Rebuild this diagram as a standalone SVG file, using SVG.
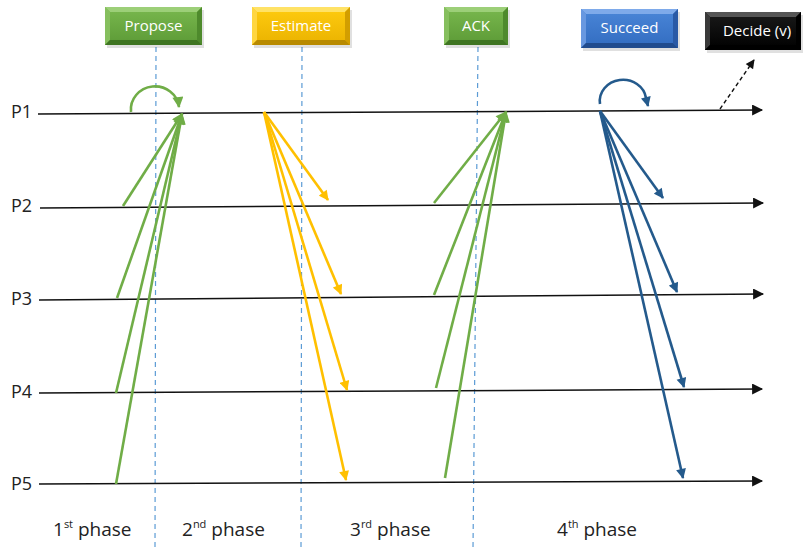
<svg xmlns="http://www.w3.org/2000/svg" width="804" height="548" viewBox="0 0 804 548">
<style>
.lbl{font-family:"Open Sans","Liberation Sans",sans-serif;font-size:18px;fill:#222}
.ph{font-family:"Open Sans","Liberation Sans",sans-serif;font-size:19px;fill:#222}
.btxt{font-family:"Open Sans","Liberation Sans",sans-serif;font-size:15px;fill:#fff;text-anchor:middle}
.sup{font-size:11px}
.axis{stroke:#111;stroke-width:1.5;fill:none;marker-end:url(#mk)}
.div{stroke:#5b9bd5;stroke-width:1.2;stroke-dasharray:5 4;fill:none}
.g{stroke:#70ad47;stroke-width:2.6;fill:none;marker-end:url(#mg)}
.y{stroke:#ffc000;stroke-width:2.6;fill:none;marker-end:url(#my)}
.b{stroke:#245a8c;stroke-width:2.6;fill:none;marker-end:url(#mb)}
</style>
<defs>
<marker id="mk" viewBox="0 0 10 10" refX="9" refY="5" markerUnits="userSpaceOnUse" markerWidth="13" markerHeight="11" orient="auto"><path d="M0,0 L10,5 L0,10 z" fill="#111"/></marker>
<marker id="mg" viewBox="0 0 10 10" refX="9" refY="5" markerUnits="userSpaceOnUse" markerWidth="13" markerHeight="11" orient="auto"><path d="M0,0 L10,5 L0,10 z" fill="#70ad47"/></marker>
<marker id="my" viewBox="0 0 10 10" refX="9" refY="5" markerUnits="userSpaceOnUse" markerWidth="12" markerHeight="10" orient="auto"><path d="M0,0 L10,5 L0,10 z" fill="#ffc000"/></marker>
<marker id="mb" viewBox="0 0 10 10" refX="9" refY="5" markerUnits="userSpaceOnUse" markerWidth="12" markerHeight="10" orient="auto"><path d="M0,0 L10,5 L0,10 z" fill="#245a8c"/></marker>
<marker id="mkd" viewBox="0 0 10 10" refX="9" refY="5" markerUnits="userSpaceOnUse" markerWidth="11" markerHeight="9" orient="auto"><path d="M0,0 L10,5 L0,10 z" fill="#111"/></marker>
<linearGradient id="gG" x1="0" y1="0" x2="0" y2="1"><stop offset="0" stop-color="#79b84e"/><stop offset="1" stop-color="#5c9a36"/></linearGradient>
<linearGradient id="gY" x1="0" y1="0" x2="0" y2="1"><stop offset="0" stop-color="#ffcc10"/><stop offset="1" stop-color="#eab200"/></linearGradient>
<linearGradient id="gB" x1="0" y1="0" x2="0" y2="1"><stop offset="0" stop-color="#4a86d8"/><stop offset="1" stop-color="#326cc0"/></linearGradient>
<linearGradient id="gK" x1="0" y1="0" x2="0" y2="1"><stop offset="0" stop-color="#1a1a1a"/><stop offset="1" stop-color="#000"/></linearGradient>
</defs>
<rect width="804" height="548" fill="#fff"/>

<g id="dividers">
<line class="div" x1="156" y1="47" x2="155" y2="548"/>
<line class="div" x1="302" y1="47" x2="301" y2="548"/>
<line class="div" x1="478" y1="47" x2="473" y2="548"/>
</g>

<g id="timelines">
<g id="p1"><text class="lbl" x="11" y="118">P1</text><line class="axis" x1="38" y1="114" x2="762" y2="110"/></g>
<g id="p2"><text class="lbl" x="11" y="212">P2</text><line class="axis" x1="40" y1="208" x2="763" y2="203"/></g>
<g id="p3"><text class="lbl" x="11" y="305">P3</text><line class="axis" x1="39" y1="300" x2="763" y2="294"/></g>
<g id="p4"><text class="lbl" x="11" y="398">P4</text><line class="axis" x1="39" y1="393" x2="762" y2="389"/></g>
<g id="p5"><text class="lbl" x="11" y="490">P5</text><line class="axis" x1="39" y1="484" x2="762" y2="481"/></g>
</g>

<g id="propose">
<rect x="107" y="10" width="97" height="38" fill="#000" opacity="0.12"/>
<rect x="105" y="7" width="97" height="38" fill="url(#gG)"/>
<polygon points="105,7 202,7 197,12 110,12" fill="#9ccf78"/>
<polygon points="105,7 110,12 110,40 105,45" fill="#86bf5e"/>
<polygon points="202,7 202,45 197,40 197,12" fill="#4e8a2c"/>
<polygon points="105,45 110,40 197,40 202,45" fill="#3f7522"/>
<text class="btxt" x="153.5" y="31">Propose</text>
</g>

<g id="estimate">
<rect x="254" y="10" width="98" height="38" fill="#000" opacity="0.12"/>
<rect x="252" y="7" width="98" height="38" fill="url(#gY)"/>
<polygon points="252,7 350,7 345,12 257,12" fill="#ffe266"/>
<polygon points="252,7 257,12 257,40 252,45" fill="#ffd640"/>
<polygon points="350,7 350,45 345,40 345,12" fill="#d29e00"/>
<polygon points="252,45 257,40 345,40 350,45" fill="#b88a00"/>
<text class="btxt" x="301" y="31">Estimate</text>
</g>

<g id="ack">
<rect x="446" y="10" width="64" height="38" fill="#000" opacity="0.12"/>
<rect x="444" y="7" width="64" height="38" fill="url(#gG)"/>
<polygon points="444,7 508,7 503,12 449,12" fill="#9ccf78"/>
<polygon points="444,7 449,12 449,40 444,45" fill="#86bf5e"/>
<polygon points="508,7 508,45 503,40 503,12" fill="#4e8a2c"/>
<polygon points="444,45 449,40 503,40 508,45" fill="#3f7522"/>
<text class="btxt" x="476" y="31">ACK</text>
</g>

<g id="succeed">
<rect x="583" y="12" width="97" height="39" fill="#000" opacity="0.12"/>
<rect x="581" y="9" width="97" height="39" fill="url(#gB)"/>
<polygon points="581,9 678,9 673,14 586,14" fill="#7eaaea"/>
<polygon points="581,9 586,14 586,43 581,48" fill="#6898e0"/>
<polygon points="678,9 678,48 673,43 673,14" fill="#2a5aa6"/>
<polygon points="581,48 586,43 673,43 678,48" fill="#214c8e"/>
<text class="btxt" x="629.5" y="33">Succeed</text>
</g>

<g id="decide">
<rect x="707" y="15" width="96" height="38" fill="#000" opacity="0.12"/>
<rect x="705" y="12" width="96" height="38" fill="url(#gK)"/>
<polygon points="705,12 801,12 796,17 710,17" fill="#555"/>
<polygon points="705,12 710,17 710,45 705,50" fill="#3a3a3a"/>
<polygon points="801,12 801,50 796,45 796,17" fill="#000"/>
<polygon points="705,50 710,45 796,45 801,50" fill="#000"/>
<text class="btxt" x="757" y="36">Decide (v)</text>
</g>

<g id="connectors">
<path class="g" d="M131,112 A24,23 0 1 1 179,107"/>
<line class="g" x1="123" y1="206" x2="182" y2="114"/>
<line class="g" x1="117" y1="298" x2="182" y2="114"/>
<line class="g" x1="116" y1="393" x2="182" y2="114"/>
<line class="g" x1="116" y1="484" x2="182" y2="114"/>
<line class="y" x1="264" y1="112" x2="328" y2="200"/>
<line class="y" x1="264" y1="112" x2="341" y2="294"/>
<line class="y" x1="264" y1="112" x2="347" y2="390"/>
<line class="y" x1="264" y1="112" x2="346" y2="480"/>
<line class="g" x1="434" y1="203" x2="506" y2="112"/>
<line class="g" x1="434" y1="295" x2="506" y2="112"/>
<line class="g" x1="436" y1="388" x2="506" y2="112"/>
<line class="g" x1="445" y1="478" x2="506" y2="112"/>
<path class="b" d="M600,104 A23,21 0 0 1 646,98 L648,106"/>
<line class="b" x1="600" y1="111" x2="663" y2="198"/>
<line class="b" x1="600" y1="111" x2="677" y2="292"/>
<line class="b" x1="600" y1="111" x2="684" y2="387"/>
<line class="b" x1="600" y1="111" x2="683" y2="478"/>
<line x1="720" y1="109" x2="754" y2="60" stroke="#111" stroke-width="1.4" stroke-dasharray="4 3" marker-end="url(#mkd)"/>
</g>

<g id="phases">
<text class="ph" x="53" y="536">1<tspan class="sup" dy="-8">st</tspan><tspan dy="8"> phase</tspan></text>
<text class="ph" x="182" y="536">2<tspan class="sup" dy="-8">nd</tspan><tspan dy="8"> phase</tspan></text>
<text class="ph" x="350" y="536">3<tspan class="sup" dy="-8">rd</tspan><tspan dy="8"> phase</tspan></text>
<text class="ph" x="557" y="536">4<tspan class="sup" dy="-8">th</tspan><tspan dy="8"> phase</tspan></text>
</g>
</svg>
